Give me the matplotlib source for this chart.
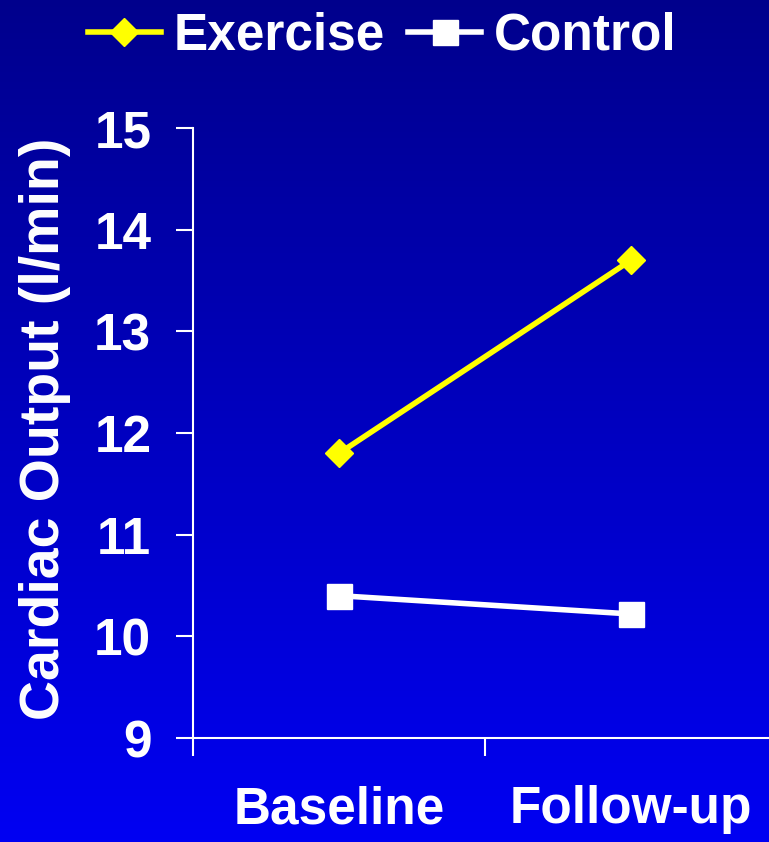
import numpy as np
import matplotlib
matplotlib.use("Agg")
import matplotlib.pyplot as plt

# Datos del gráfico
categorias = ["Baseline", "Follow-up"]
ejercicio = [11.8, 13.7]
control = [10.4, 10.22]
ticks_y = [9, 10, 11, 12, 13, 14, 15]

plt.rcParams["font.family"] = ["Liberation Sans", "DejaVu Sans"]
plt.rcParams["font.weight"] = "bold"

fig = plt.figure(figsize=(7.69, 8.42), dpi=100)

# Fondo degradado azul (oscuro arriba, claro abajo)
fondo = fig.add_axes([0, 0, 1, 1], zorder=0)
grad = np.linspace(0, 1, 256).reshape(-1, 1)
img = np.zeros((256, 1, 3))
img[:, 0, 2] = 0.55 + 0.40 * grad[:, 0]
fondo.imshow(img, aspect="auto", extent=[0, 1, 0, 1], origin="upper")
fondo.axis("off")

ax = fig.add_axes([193 / 769, 1 - 738 / 842, 584 / 769, 610 / 842], zorder=1)
ax.patch.set_alpha(0)

x = np.arange(len(categorias))
ax.plot(x, ejercicio, color="#ffff00", lw=4, marker="D", ms=14.5,
        label="Exercise", clip_on=False)
ax.plot(x, control, color="white", lw=4, marker="s", ms=18,
        label="Control", clip_on=False)

ax.set_xlim(-0.5, 1.5)
ax.set_ylim(9, 15)

for lado in ["top", "right"]:
    ax.spines[lado].set_visible(False)
for lado in ["left", "bottom"]:
    ax.spines[lado].set_color("white")
    ax.spines[lado].set_linewidth(1.5)

# Marcas en los límites de las categorías, etiquetas en el centro
ax.set_xticks([-0.5, 0.5, 1.5])
ax.set_xticklabels([])
ax.set_xticks(x, minor=True)
ax.set_xticklabels(categorias, minor=True)
ax.tick_params(axis="x", which="major", direction="out", length=13,
               width=1.5, color="white")
ax.tick_params(axis="x", which="minor", length=0, pad=34,
               labelsize=37, labelcolor="white")

ax.set_yticks(ticks_y)
ax.tick_params(axis="y", direction="out", length=12, width=1.5,
               color="white", pad=18, labelsize=37, labelcolor="white")

fig.text(45 / 769, 1 - 429 / 842, "Cardiac Output (l/min)", rotation=90,
         ha="center", va="center", color="white", fontsize=40,
         fontweight="bold")

leg = ax.legend(loc="center left", bbox_to_anchor=(88 / 769, 1 - 36 / 842),
                bbox_transform=fig.transFigure, ncol=2, frameon=False,
                fontsize=37, handlelength=1.42, handletextpad=0.25,
                columnspacing=0.45, borderpad=0, borderaxespad=0,
                numpoints=1)
for t in leg.get_texts():
    t.set_color("white")

fig.savefig("out.png", dpi=100)
